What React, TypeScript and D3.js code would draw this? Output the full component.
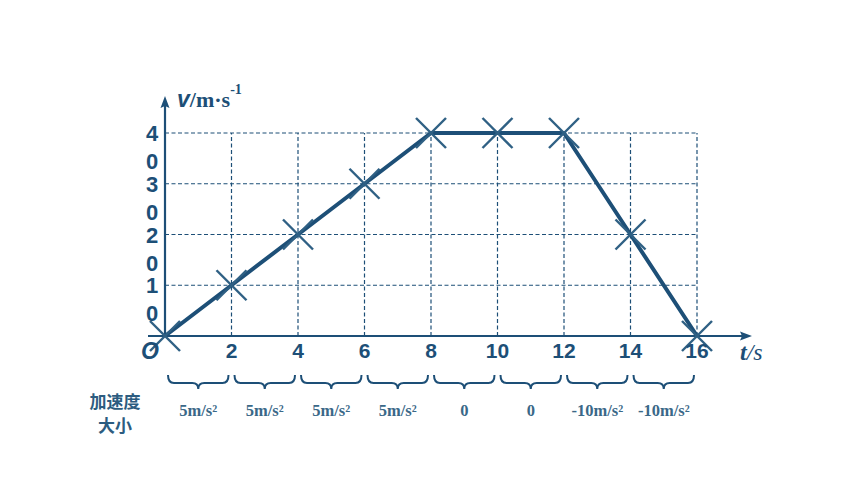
import React from 'react';
import * as d3 from 'd3';

const times = [0, 2, 4, 6, 8, 10, 12, 14, 16];
const speeds = [0, 10, 20, 30, 40, 40, 40, 20, 0];
const xTicks = [2, 4, 6, 8, 10, 12, 14, 16];
const yTicks = [10, 20, 30, 40];
const accelLabels = ['5m/s²', '5m/s²', '5m/s²', '5m/s²', '0', '0', '-10m/s²', '-10m/s²'];

const INK = '#1d4f77';
const MARK = '#2f6084';
const SANS = '"Liberation Sans", Arial, sans-serif';
const SERIF = '"Liberation Serif", "Times New Roman", serif';

export default function App() {
  const width = 860;
  const height = 484;
  const x = d3.scaleLinear().domain([0, 16]).range([165, 697]);
  const y = d3.scaleLinear().domain([0, 40]).range([336, 133]);

  const line = d3.line<number>()
    .x((_, i) => x(times[i]))
    .y(d => y(d));

  // downward curly brace spanning one interval
  const brace = (a: number, b: number) => {
    const xa = x(a) + 3;
    const xb = x(b) - 3;
    const mid = (xa + xb) / 2;
    const y0 = 375, y1 = 383, y2 = 389, r = 6;
    return `M${xa},${y0} Q${xa},${y1} ${xa + r},${y1} L${mid - r},${y1} Q${mid},${y1} ${mid},${y2} ` +
      `Q${mid},${y1} ${mid + r},${y1} L${xb - r},${y1} Q${xb},${y1} ${xb},${y0}`;
  };

  const m = 15;

  return (
    <svg width={width} height={height} style={{ position: 'absolute', left: 0, top: 0 }}>
      <rect width={width} height={height} fill="#fff" />

      {/* grid */}
      <g stroke={INK} strokeWidth={1.2} strokeDasharray="4,2.5" fill="none">
        {yTicks.map(t => (
          <line key={'h' + t} x1={x(0)} x2={x(16)} y1={y(t)} y2={y(t)} />
        ))}
        {xTicks.map(t => (
          <line key={'v' + t} x1={x(t)} x2={x(t)} y1={y(0)} y2={y(40)} />
        ))}
      </g>

      {/* axes */}
      <g stroke={INK} strokeWidth={2.2}>
        <line x1={148} x2={744} y1={y(0)} y2={y(0)} />
        <line x1={x(0)} x2={x(0)} y1={y(0)} y2={104} />
      </g>
      <path d={`M752,${y(0)} L740,${y(0) - 4.5} L742,${y(0)} L740,${y(0) + 4.5} Z`} fill={INK} />
      <path d={`M${x(0)},96 L${x(0) - 4.5},108 L${x(0)},106 L${x(0) + 4.5},108 Z`} fill={INK} />

      {/* series */}
      <path d={line(speeds) ?? ''} fill="none" stroke={INK} strokeWidth={4} strokeLinejoin="round" />
      <g stroke={MARK} strokeWidth={2.4}>
        {speeds.map((v, i) => (
          <g key={i}>
            <line x1={x(times[i]) - m} y1={y(v) - m} x2={x(times[i]) + m} y2={y(v) + m} />
            <line x1={x(times[i]) - m} y1={y(v) + m} x2={x(times[i]) + m} y2={y(v) - m} />
          </g>
        ))}
      </g>

      {/* y tick labels, wrapped onto two lines */}
      <g fill={INK} fontFamily={SANS} fontWeight="bold" fontSize={22} textAnchor="middle">
        {yTicks.map(t => {
          const s = String(t);
          return (
            <g key={t}>
              <text x={152} y={y(t) + 8}>{s[0]}</text>
              <text x={152} y={y(t) + 36}>{s[1]}</text>
            </g>
          );
        })}
      </g>

      {/* x tick labels */}
      <g fill={INK} fontFamily={SANS} fontWeight="bold" fontSize={21} textAnchor="middle">
        {xTicks.map(t => (
          <text key={t} x={x(t)} y={358}>{t}</text>
        ))}
      </g>
      <text x={150} y={359} fill={INK} fontFamily={SANS} fontWeight="bold" fontStyle="italic" fontSize={23} textAnchor="middle">O</text>

      {/* axis titles */}
      <text x={177} y={107} fill={INK} fontWeight="bold">
        <tspan fontFamily={SANS} fontStyle="italic" fontSize={23}>v</tspan>
        <tspan fontFamily={SERIF} fontSize={22}>/m·s</tspan>
        <tspan fontFamily={SERIF} fontSize={14} dy={-13}>-1</tspan>
      </text>
      <text x={740} y={360} fill={INK} fontFamily={SERIF} fontStyle="italic" fontSize={24}>
        <tspan fontWeight="bold">t</tspan>/s
      </text>

      {/* acceleration braces */}
      <g fill="none" stroke={INK} strokeWidth={2}>
        {accelLabels.map((_, i) => (
          <path key={i} d={brace(times[i], times[i + 1])} />
        ))}
      </g>
      <g fill="#3a6888" fontFamily={SERIF} fontWeight="bold" fontSize={16.5} textAnchor="middle">
        {accelLabels.map((l, i) => (
          <text key={i} x={(x(times[i]) + x(times[i + 1])) / 2} y={416}>{l}</text>
        ))}
      </g>
      <g fill="#2c5c80" fontFamily='"Noto Sans CJK SC", sans-serif' fontWeight="bold" fontSize={17} textAnchor="middle">
        <text x={115} y={408}>加速度</text>
        <text x={115} y={432}>大小</text>
      </g>
    </svg>
  );
}
